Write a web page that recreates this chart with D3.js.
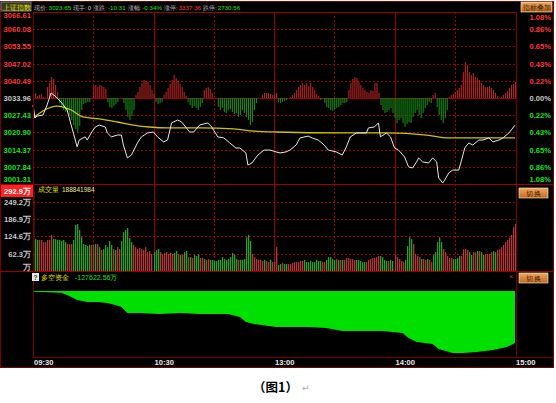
<!DOCTYPE html>
<html>
<head>
<meta charset="utf-8">
<script src="https://cdn.jsdelivr.net/npm/d3@7"></script>
<style>
body { margin: 0; background: #fff; }
svg { display: block; font-family: "Liberation Sans", Arial, sans-serif; }
</style>
</head>
<body>
<svg id="chart" width="556" height="403"></svg>
<script>
// axis ticks
var priceTicks = [3066.61, 3060.08, 3053.55, 3047.02, 3040.49, 3033.96, 3027.43, 3020.90, 3014.37, 3007.84, 3001.31];
var pctTicks = ["1.08%", "0.86%", "0.65%", "0.43%", "0.22%", "0.00%", "0.22%", "0.43%", "0.65%", "0.86%", "1.08%"];
var preClose = 3033.96;
var volTicks = [292.9, 249.2, 186.9, 124.6, 62.3, 0];
var timeTicks = [0, 60, 120, 180, 240];
var timeLabels = ["09:30", "10:30", "13:00", "14:00", "15:00"];
var halfHours = [30, 60, 90, 120, 150, 180, 210];
var hourLines = [60, 120, 180];

// header quote
var indexName = "上证指数";
var quoteLabels = ["现价:", "现手:", "涨跌:", "涨幅:", "涨停:", "跌停:"];
var quoteValues = ["3023.65", "0", "-10.31", "-0.34%", "3337.36", "2730.56"];
var volTitle = "成交量";
var volTotal = "188841984";
var fundTitle = "多空资金";
var fundLast = "-127622.56万";

// price line (minute, price)
var priceMin = [0,1,2,5,7,9,11,14,17,19,22,23,26,27,29,31,33,36,37,39,42,44,45,47,49,52,54,57,60,62,65,67,69,72,74,76,78,80,83,87,89,92,95,98,101,103,106,107,109,112,115,118,121,123,126,128,131,133,137,139,142,145,147,151,154,156,158,161,163,166,167,170,172,173,176,178,180,182,185,187,189,191,192,194,197,199,201,202,204,205,207,209,212,213,215,217,219,222,224,227,229,232,234,237,240];
var priceVal = [3031.30,3026.37,3027.10,3027.50,3031.30,3035.86,3034.70,3032.40,3029.40,3023.70,3015.40,3018.00,3019.20,3018.00,3020.70,3022.95,3023.70,3022.95,3020.70,3019.20,3019.90,3019.90,3016.10,3011.20,3012.30,3016.90,3019.20,3020.70,3021.05,3019.20,3017.30,3018.00,3024.50,3025.60,3024.85,3022.95,3021.05,3021.05,3023.70,3024.50,3022.95,3019.20,3018.80,3016.90,3014.98,3014.98,3013.10,3008.50,3009.30,3012.30,3014.20,3014.20,3013.50,3013.10,3013.50,3014.20,3016.10,3018.80,3019.50,3018.80,3018.00,3016.10,3014.20,3013.50,3012.30,3015.40,3019.20,3020.70,3020.70,3020.70,3022.60,3022.95,3024.50,3019.20,3020.70,3019.20,3015.00,3014.20,3011.60,3007.80,3007.40,3009.70,3011.20,3009.70,3009.30,3011.20,3009.70,3003.60,3001.70,3002.80,3005.50,3006.60,3006.60,3009.30,3015.00,3016.90,3016.10,3018.00,3018.00,3018.80,3017.30,3018.00,3018.80,3020.70,3023.65];

// average price line
var avgMin = [0,12,19,25,33,42,50,58,67,83,100,110,121,154,176,196,207,221,240];
var avgVal = [3026.4,3030.9,3029.4,3026.75,3026.0,3024.85,3023.7,3022.95,3022.6,3022.6,3022.2,3021.4,3021.05,3020.7,3020.7,3019.9,3018.8,3018.8,3018.8];

// red/green strength bars, one per minute (positive = red)
var strength = [
  0,5,2,3,4,1,0,11,15,21,
  19,13,6,-5,-9,-12,-14,-13,-17,-22,
  -27,-31,-35,-28,-12,-6,-5,-4,-4,0,
  12,13,11,13,12,11,9,-4,-9,-10,
  -8,-6,-4,0,0,-5,-12,-19,-22,-18,
  -12,3,6,11,15,18,17,16,13,8,
  4,-4,-6,-5,-4,3,6,10,14,18,
  23,20,17,14,11,6,2,-4,-7,-10,
  -8,-10,-12,-9,-5,8,10,11,9,5,
  0,0,-9,-12,-10,-14,-15,-12,-11,-14,
  -16,-15,-19,-17,-12,-15,-19,-22,-27,-24,
  -12,-5,0,0,3,5,5,5,4,3,
  3,5,-4,-5,-4,-3,-2,0,1,3,
  5,8,11,13,15,13,15,12,15,11,
  8,4,2,-2,0,-5,-9,-10,-12,-13,
  -11,-10,-9,-7,-5,-5,-4,8,15,19,
  21,20,16,13,10,8,6,5,8,7,
  15,15,5,-7,-12,-15,-14,-12,-10,-15,
  -20,-25,-22,-20,-25,-29,-26,-24,-25,-19,
  -15,-12,-17,-20,-15,-10,-7,-4,-5,3,
  5,-9,-17,-22,-25,-20,-12,1,3,4,
  6,8,10,13,26,36,33,26,23,25,
  21,20,18,15,13,11,11,12,10,8,
  5,2,0,1,3,5,7,10,13,14,
  16
];

// volume per minute (万)
var volume = [
  285,115,112,112,112,104,104,112,112,130,
  115,115,112,112,108,112,104,97,97,97,
  112,166,169,148,122,97,94,90,94,94,
  94,97,97,86,76,79,94,86,108,94,
  79,76,86,79,108,140,148,155,119,104,
  94,86,79,83,79,76,86,68,72,61,
  68,76,79,68,61,65,68,61,65,61,
  65,72,61,58,58,68,72,50,50,47,
  58,54,61,47,47,43,40,43,40,40,
  36,36,40,40,50,43,40,43,50,65,
  58,43,40,40,40,43,122,130,108,61,
  50,43,40,40,36,40,36,32,40,32,
  32,86,22,25,29,25,25,25,25,29,
  32,32,32,36,36,40,32,32,36,32,
  32,40,36,36,32,32,40,50,50,43,
  40,43,40,40,40,40,47,47,43,43,
  40,40,40,36,32,32,32,40,43,47,
  47,50,54,54,50,40,36,36,40,36,
  58,50,43,36,32,40,90,122,115,97,
  61,54,50,43,43,40,43,40,32,58,
  68,104,122,104,79,68,54,47,47,43,
  43,47,54,54,79,79,76,68,58,68,
  68,72,72,68,58,61,61,61,68,72,
  68,76,79,86,94,104,112,119,130,158,
  169
];
// 1 = up minute (red), 0 = down minute (green)
var volUp = "1" +
  "001111111" + "0000000111" + "0000000001" + "1010100000" + "1011000000" +
  "1111111111" + "0001111111" + "0010100101" + "0001101100" + "0000000000" +
  "0010000001" + "1111101101" + "1100100111" + "1111100000" + "0000110000" +
  "0101011111" + "1000001111" + "1110000100" + "1111100001" + "1110110110" +
  "0000111110" + "0001111001" + "1010011110" + "0111111111" + "1";

// fund flow (万)
var fundMin = [0,14,17,20,22,27,32,37,41,44,46,47,53,63,73,83,97,103,106,110,121,137,146,154,174,184,187,191,199,202,209,214,221,229,236,240];
var fundVal = [-1700,-4200,-9800,-17200,-22100,-27000,-27000,-29400,-34400,-39300,-49100,-54000,-54000,-56400,-54000,-56400,-56400,-63800,-76100,-81000,-88300,-88300,-90800,-98200,-98200,-103100,-115300,-125200,-130100,-142300,-152100,-152100,-149700,-144800,-137400,-127622.56];

// ---- styles ----
var C = {
  bg: "#000", frame: "#7a0000", grid: "#a00000", solid: "#9a0000",
  red: "#ff3a3a", green: "#1ee01e", gray: "#c8c8c8", yellow: "#e6e600",
  barUp: "#b82424", barDown: "#168a16", volUp: "#b03838", volDown: "#2e9e2e",
  price: "#e8e8e8", avg: "#cfc400", fund: "#00e000"
};

var svg = d3.select("#chart");

var x = d3.scaleLinear().domain([0, 240]).range([33, 515]);
var yP = d3.scaleLinear().domain([3001.31, 3066.61]).range([184, 12]);
var yS = d3.scaleLinear().domain([-86, 86]).range([184, 12]);
var yV = d3.scaleLinear().domain([0, 292.9]).range([271, 189.7]);
var yF = d3.scaleLinear().domain([-162000, 0]).range([357, 291]);

svg.append("rect").attr("x", 0).attr("y", 1).attr("width", 554).attr("height", 367).attr("fill", C.bg);

var grid = svg.append("g");
// price horizontals
grid.selectAll(".hp").data(priceTicks).enter().append("line")
  .attr("x1", 33).attr("x2", 516)
  .attr("y1", function (d) { return Math.round(yP(d)) + 0.5; })
  .attr("y2", function (d) { return Math.round(yP(d)) + 0.5; })
  .attr("stroke", function (d, i) { return (i == 5 || i == 0) ? C.solid : C.grid; })
  .attr("stroke-dasharray", function (d, i) { return (i == 0 || i == 5 || i == 10) ? null : "2,2"; });
// volume horizontals
grid.selectAll(".hv").data(volTicks.slice(1, 5)).enter().append("line")
  .attr("x1", 33).attr("x2", 516)
  .attr("y1", function (d) { return Math.round(yV(d)) + 0.5; })
  .attr("y2", function (d) { return Math.round(yV(d)) + 0.5; })
  .attr("stroke", C.grid).attr("stroke-dasharray", "2,2");
// verticals
grid.selectAll(".v").data(halfHours).enter().append("line")
  .attr("x1", function (d) { return Math.round(x(d)) + 0.5; })
  .attr("x2", function (d) { return Math.round(x(d)) + 0.5; })
  .attr("y1", 12).attr("y2", 271)
  .attr("stroke", function (d) { return hourLines.indexOf(d) >= 0 ? C.solid : C.grid; })
  .attr("stroke-dasharray", function (d) { return hourLines.indexOf(d) >= 0 ? null : "2,2"; });

// strength bars
svg.append("g").selectAll("rect").data(strength).enter().append("rect")
  .attr("x", function (d, i) { return x(i); })
  .attr("width", 1.1)
  .attr("y", function (d) { return Math.min(yS(d), yS(0)); })
  .attr("height", function (d) { return Math.abs(yS(d) - yS(0)); })
  .attr("fill", function (d) { return d >= 0 ? C.barUp : C.barDown; });

// average + price lines
var avgLine = d3.line().x(function (d, i) { return x(avgMin[i]); }).y(function (d) { return yP(d); }).curve(d3.curveMonotoneX);
svg.append("path").attr("d", avgLine(avgVal)).attr("fill", "none").attr("stroke", C.avg).attr("stroke-width", 1.3);
var priceLine = d3.line().x(function (d, i) { return x(priceMin[i]); }).y(function (d) { return yP(d); });
svg.append("path").attr("d", priceLine(priceVal)).attr("fill", "none").attr("stroke", C.price).attr("stroke-width", 1);

// volume bars
svg.append("g").selectAll("rect").data(volume).enter().append("rect")
  .attr("x", function (d, i) { return Math.round(x(i)); })
  .attr("width", 1.3)
  .attr("y", function (d) { return yV(d); })
  .attr("height", function (d) { return yV(0) - yV(d); })
  .attr("fill", function (d, i) { return volUp[i] == "1" ? C.volUp : C.volDown; });

// fund area
var fundArea = d3.area()
  .x(function (d, i) { return x(fundMin[i]); })
  .y0(yF(0))
  .y1(function (d) { return yF(d); });
svg.append("path").attr("d", fundArea(fundVal)).attr("fill", C.fund);

// frame
var frame = svg.append("g").attr("stroke", C.frame).attr("fill", "none");
frame.append("rect").attr("x", 0.5).attr("y", 1.5).attr("width", 553).attr("height", 366);
frame.append("line").attr("x1", 33.5).attr("x2", 33.5).attr("y1", 12).attr("y2", 357);
frame.append("line").attr("x1", 516.5).attr("x2", 516.5).attr("y1", 12).attr("y2", 357);
[184, 271].forEach(function (yy) {
  frame.append("line").attr("x1", 0).attr("x2", 554).attr("y1", yy + 0.5).attr("y2", yy + 0.5).attr("stroke", C.solid);
});
frame.append("line").attr("x1", 33).attr("x2", 554).attr("y1", 357.5).attr("y2", 357.5);
frame.append("line").attr("x1", 33).attr("x2", 516).attr("y1", 12.5).attr("y2", 12.5).attr("stroke", C.solid);

// red box behind the top volume label
svg.append("rect").attr("x", 1).attr("y", 185).attr("width", 32).attr("height", 12).attr("fill", "#ff2020");

// left price labels
var lab = svg.append("g").attr("font-size", 7.6).attr("font-weight", "bold");
lab.selectAll(".pl").data(priceTicks).enter().append("text")
  .attr("x", 31).attr("text-anchor", "end")
  .attr("y", function (d, i) { var yy = yP(d); if (i == 0) yy += 2.5; if (i == priceTicks.length - 1) yy -= 5; return yy + 3; })
  .attr("fill", function (d) { return d > preClose ? C.red : (d < preClose ? C.green : C.gray); })
  .text(function (d) { return d.toFixed(2); });
// right pct labels
lab.selectAll(".rl").data(pctTicks).enter().append("text")
  .attr("x", 551).attr("text-anchor", "end")
  .attr("y", function (d, i) { var yy = Math.min(Math.max(yP(priceTicks[i]), 17), 179); return yy + 3; })
  .attr("fill", function (d, i) { return i < 5 ? C.red : (i > 5 ? C.green : C.gray); })
  .text(function (d) { return d; });
// volume labels
lab.selectAll(".vl").data(volTicks).enter().append("text")
  .attr("x", 31).attr("text-anchor", "end")
  .attr("y", function (d, i) { var yy = yV(d); if (i == 0) yy = 191; if (i == volTicks.length - 1) yy -= 4; return yy + 3; })
  .attr("fill", function (d, i) { return i == 0 ? "#fff" : C.gray; })
  .text(function (d) { return (d ? d.toFixed(1) : "") + "万"; });
// time labels
lab.selectAll(".tl").data(timeTicks).enter().append("text")
  .attr("x", function (d) { return x(d) + 1; })
  .attr("y", 365)
  .attr("fill", "#e8e8e8")
  .text(function (d, i) { return timeLabels[i]; });

// header
svg.append("rect").attr("x", 1).attr("y", 2).attr("width", 30).attr("height", 9).attr("fill", "#3a3a20").attr("stroke", "#777");
svg.append("text").attr("x", 3).attr("y", 9.5).attr("font-size", 6.8).attr("fill", C.yellow).text(indexName);
var valColors = [C.green, C.gray, C.green, C.green, C.red, C.green];
var head = svg.append("text").attr("x", 34).attr("y", 9.5).attr("font-size", 6.2);
quoteLabels.forEach(function (l, i) {
  head.append("tspan").attr("fill", "#bdbdbd").attr("dx", i ? 2 : 0).text(l);
  head.append("tspan").attr("fill", valColors[i]).attr("dx", 1).text(quoteValues[i]);
});

// panel headers
svg.append("text").attr("x", 38).attr("y", 192).attr("font-size", 7).attr("fill", C.yellow).text(volTitle);
svg.append("text").attr("x", 62).attr("y", 192).attr("font-size", 6.5).attr("fill", "#e8e8a0").text(volTotal);
svg.append("rect").attr("x", 32).attr("y", 273).attr("width", 7).attr("height", 8).attr("fill", "#e8e8e8");
svg.append("text").attr("x", 33.5).attr("y", 280).attr("font-size", 6.5).attr("font-weight", "bold").attr("fill", "#333").text("?");
svg.append("text").attr("x", 41).attr("y", 280).attr("font-size", 7).attr("fill", C.yellow).text(fundTitle);
svg.append("text").attr("x", 75).attr("y", 280).attr("font-size", 7).attr("fill", C.green).text(fundLast);
svg.append("text").attr("x", 509).attr("y", 279).attr("font-size", 7).attr("fill", "#d03030").text("×");

// buttons
var defs = svg.append("defs");
var gr = defs.append("linearGradient").attr("id", "btn").attr("x1", 0).attr("y1", 0).attr("x2", 0).attr("y2", 1);
gr.append("stop").attr("offset", "0").attr("stop-color", "#f0a860");
gr.append("stop").attr("offset", "1").attr("stop-color", "#c06a20");
function button(bx, by, bw, label) {
  svg.append("rect").attr("x", bx).attr("y", by).attr("width", bw).attr("height", 10)
    .attr("fill", "url(#btn)").attr("stroke", "#fff2d8").attr("stroke-width", 0.6);
  svg.append("text").attr("x", bx + bw / 2).attr("y", by + 7.6).attr("text-anchor", "middle")
    .attr("font-size", 6.5).attr("fill", "#3a1a00").text(label);
}
button(521, 2, 31, "指标叠加");
button(519, 188, 29, "切 换");
button(519, 273, 29, "切 换");

// caption
svg.append("text").attr("x", 253).attr("y", 392).attr("font-size", 12.5).attr("font-weight", "bold")
  .attr("font-family", "'Noto Sans CJK SC', sans-serif").attr("fill", "#000").text("（图1）");
svg.append("text").attr("x", 302).attr("y", 391).attr("font-size", 9).attr("fill", "#aaa")
  .attr("font-family", "'DejaVu Sans', sans-serif").text("↵");
</script>
</body>
</html>
